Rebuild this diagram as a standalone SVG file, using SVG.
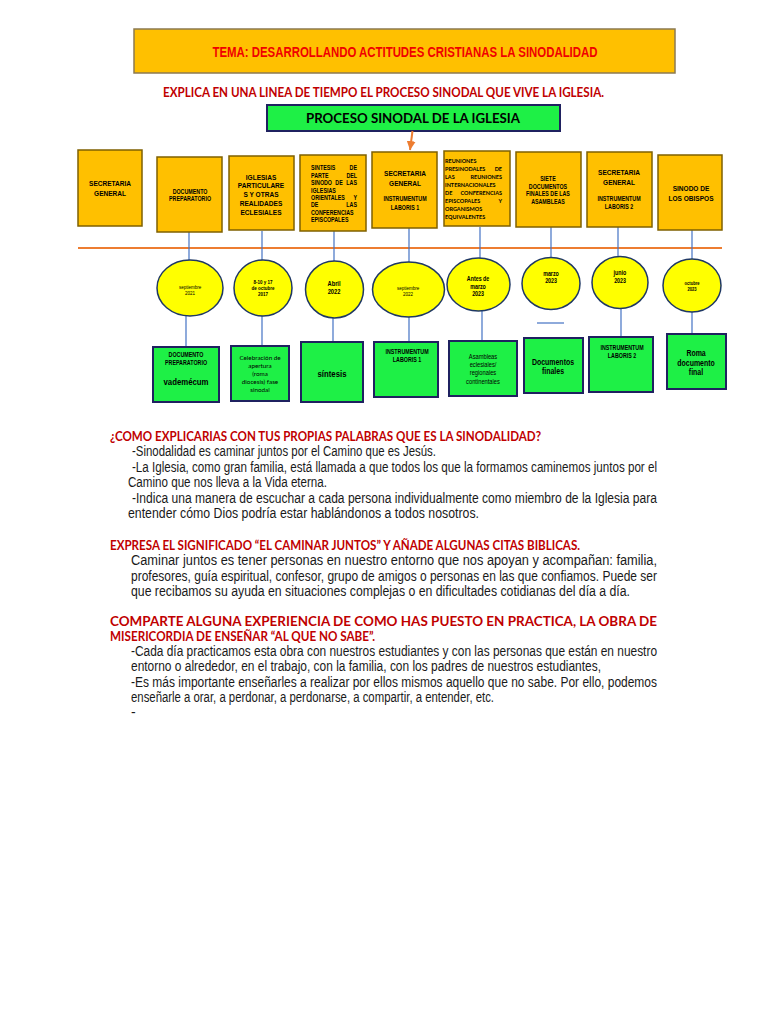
<svg xmlns="http://www.w3.org/2000/svg" width="768" height="1024" viewBox="0 0 768 1024">
<style>
.tb{fill:#FFC000;stroke:#7F6000;stroke-width:1.5}
.gb{fill:#1EF046;stroke:#1F2160;stroke-width:2}
.ci{fill:#FFFF00;stroke:#1F3864;stroke-width:1.5}
.cn{stroke:#4472C4;stroke-width:1.2;fill:none}
.n{font-family:"Liberation Sans",Arial,sans-serif;fill:#000;transform-box:fill-box;transform-origin:center;transform:scaleX(.82)}
.nl{font-family:"Liberation Sans",Arial,sans-serif;fill:#000;font-weight:bold;transform-box:fill-box;transform-origin:left center;transform:scaleX(.82)}
.nr{font-family:"Liberation Sans",Arial,sans-serif;fill:#000;font-weight:bold;text-anchor:end;transform-box:fill-box;transform-origin:right center;transform:scaleX(.82)}
.m{text-anchor:middle}
.b{font-weight:bold}
.c{font-family:Lato,"Liberation Sans",sans-serif;fill:#000}
.ce{font-family:Lato,"Liberation Sans",sans-serif;fill:#000;font-weight:bold;font-size:5.5px}
.hd{font-family:Lato,"Liberation Sans",sans-serif;font-weight:bold;fill:#C00000;font-size:13.3px}
.bd{font-family:"Liberation Sans",Arial,sans-serif;font-size:14px;fill:#1a1a1a}
</style>
<defs>
<marker id="ah" viewBox="0 0 10 10" refX="10" refY="5" markerWidth="9" markerHeight="9" markerUnits="userSpaceOnUse" orient="auto">
<path d="M0,0 L10,5 L0,10 z" fill="#ED7D31"/>
</marker>
</defs>

<g id="title">
<rect x="134" y="29" width="541" height="44" class="tb" style="stroke:#8C7A50"/>
<text x="405" y="57" font-family="Liberation Sans, Arial, sans-serif" font-weight="bold" font-size="14" fill="#F00000" text-anchor="middle" textLength="385" lengthAdjust="spacingAndGlyphs">TEMA: DESARROLLANDO ACTITUDES CRISTIANAS LA SINODALIDAD</text>
</g>
<text id="subtitle" x="163" y="97" class="hd" textLength="441" lengthAdjust="spacingAndGlyphs">EXPLICA EN UNA LINEA DE TIEMPO EL PROCESO SINODAL QUE VIVE LA IGLESIA.</text>

<g id="header">
<rect x="267" y="105" width="293" height="26" class="gb"/>
<text x="413" y="123" class="c" font-weight="bold" font-size="14" text-anchor="middle" textLength="214" lengthAdjust="spacingAndGlyphs">PROCESO SINODAL DE LA IGLESIA</text>
</g>

<g id="connectors">
<line x1="412.5" y1="131" x2="410" y2="150" stroke="#ED7D31" stroke-width="2" marker-end="url(#ah)"/>
<line x1="78" y1="248" x2="722" y2="248" stroke="#ED7D31" stroke-width="2"/>
<line class="cn" x1="189" y1="232" x2="189" y2="260"/>
<line class="cn" x1="262" y1="231" x2="262" y2="260"/>
<line class="cn" x1="334" y1="231" x2="334" y2="261"/>
<line class="cn" x1="409" y1="228" x2="409" y2="262"/>
<line class="cn" x1="480" y1="227" x2="480" y2="258"/>
<line class="cn" x1="551" y1="227" x2="551" y2="257.5"/>
<line class="cn" x1="618" y1="227" x2="618" y2="256.5"/>
<line class="cn" x1="692" y1="230" x2="692" y2="259"/>
<line class="cn" x1="186" y1="316" x2="186" y2="347"/>
<line class="cn" x1="262" y1="316" x2="262" y2="346"/>
<line class="cn" x1="333" y1="318" x2="333" y2="342"/>
<line class="cn" x1="409" y1="317" x2="409" y2="342"/>
<line class="cn" x1="482" y1="311" x2="482" y2="341"/>
<line class="cn" x1="621" y1="308.5" x2="621" y2="337"/>
<line class="cn" x1="692" y1="312" x2="692" y2="334"/>
<line class="cn" x1="537" y1="323" x2="564" y2="323"/>
</g>

<!-- top boxes -->
<g id="t1">
<rect x="78" y="150" width="64" height="76" class="tb"/>
<text class="n m b" x="110" y="186" font-size="8">SECRETARIA</text>
<text class="n m b" x="110" y="196" font-size="8">GENERAL</text>
</g>
<g id="t2">
<rect x="157" y="157" width="65" height="75" class="tb"/>
<text class="n m b" x="190" y="194" font-size="6.5">DOCUMENTO</text>
<text class="n m b" x="190" y="201.5" font-size="6.5">PREPARATORIO</text>
</g>
<g id="t3">
<rect x="229" y="156" width="65" height="74" class="tb"/>
<text class="n m b" x="261" y="180" font-size="8">IGLESIAS</text>
<text class="n m b" x="261" y="188.5" font-size="8">PARTICULARE</text>
<text class="n m b" x="261" y="197.5" font-size="8">S Y OTRAS</text>
<text class="n m b" x="261" y="206" font-size="8">REALIDADES</text>
<text class="n m b" x="261" y="215" font-size="8">ECLESIALES</text>
</g>
<g id="t4">
<rect x="300" y="155" width="66" height="76" class="tb"/>
<text class="nl" x="311" y="170.4" font-size="6.5">SINTESIS</text><text class="nr" x="357" y="170.4" font-size="6.5">DE</text>
<text class="nl" x="311" y="177.8" font-size="6.5">PARTE</text><text class="nr" x="357" y="177.8" font-size="6.5">DEL</text>
<text class="nl" x="311" y="185.2" font-size="6.5">SINODO</text><text class="n m b" x="339" y="185.2" font-size="6.5">DE</text><text class="nr" x="357" y="185.2" font-size="6.5">LAS</text>
<text class="nl" x="311" y="192.6" font-size="6.5">IGLESIAS</text>
<text class="nl" x="311" y="200" font-size="6.5">ORIENTALES</text><text class="nr" x="357" y="200" font-size="6.5">Y</text>
<text class="nl" x="311" y="207.4" font-size="6.5">DE</text><text class="nr" x="357" y="207.4" font-size="6.5">LAS</text>
<text class="nl" x="311" y="214.8" font-size="6.5">CONFERENCIAS</text>
<text class="nl" x="311" y="222.2" font-size="6.5">EPISCOPALES</text>
</g>
<g id="t5">
<rect x="372" y="152" width="65" height="76" class="tb"/>
<text class="n m b" x="405" y="176" font-size="8">SECRETARIA</text>
<text class="n m b" x="405" y="186" font-size="8">GENERAL</text>
<text class="n m b" x="405" y="201.5" font-size="6.5">INSTRUMENTUM</text>
<text class="n m b" x="405" y="210.5" font-size="6.5">LABORIS 1</text>
</g>
<g id="t6">
<rect x="444" y="151" width="66" height="75" class="tb"/>
<text class="ce" x="445" y="163">REUNIONES</text>
<text class="ce" x="445" y="171">PRESINODALES</text><text class="ce" x="502" y="171" text-anchor="end">DE</text>
<text class="ce" x="445" y="179">LAS</text><text class="ce" x="502" y="179" text-anchor="end">REUNIONES</text>
<text class="ce" x="445" y="187">INTERNACIONALES</text>
<text class="ce" x="445" y="195">DE</text><text class="ce" x="502" y="195" text-anchor="end">CONFERENCIAS</text>
<text class="ce" x="445" y="203">EPISCOPALES</text><text class="ce" x="502" y="203" text-anchor="end">Y</text>
<text class="ce" x="445" y="211">ORGANISMOS</text>
<text class="ce" x="445" y="219">EQUIVALENTES</text>
</g>
<g id="t7">
<rect x="516" y="152" width="65" height="75" class="tb"/>
<text class="n m b" x="548" y="181.5" font-size="6.5">SIETE</text>
<text class="n m b" x="548" y="189" font-size="6.5">DOCUMENTOS</text>
<text class="n m b" x="548" y="196.5" font-size="6.5">FINALES DE LAS</text>
<text class="n m b" x="548" y="204" font-size="6.5">ASAMBLEAS</text>
</g>
<g id="t8">
<rect x="587" y="152" width="65" height="75" class="tb"/>
<text class="n m b" x="619" y="175" font-size="8">SECRETARIA</text>
<text class="n m b" x="619" y="185" font-size="8">GENERAL</text>
<text class="n m b" x="619" y="201" font-size="6.5">INSTRUMENTUM</text>
<text class="n m b" x="619" y="209" font-size="6.5">LABORIS 2</text>
</g>
<g id="t9">
<rect x="658" y="155" width="64" height="75" class="tb"/>
<text class="n m b" x="691" y="191" font-size="8">SINODO DE</text>
<text class="n m b" x="691" y="201" font-size="8">LOS OBISPOS</text>
</g>

<!-- circles -->
<g id="c1">
<ellipse cx="190" cy="288" rx="33" ry="28" class="ci"/>
<text class="n m" x="190" y="289" font-size="5.5">septiembre</text>
<text class="n m" x="190" y="295" font-size="5.5">2021</text>
</g>
<g id="c2">
<ellipse cx="263" cy="288" rx="29" ry="28" class="ci"/>
<text class="n m b" x="263" y="284" font-size="5.5">8-10 y 17</text>
<text class="n m b" x="263" y="290" font-size="5.5">de octubre</text>
<text class="n m b" x="263" y="296" font-size="5.5">2017</text>
</g>
<g id="c3">
<ellipse cx="334.5" cy="289.5" rx="29" ry="28.5" class="ci"/>
<text class="n m b" x="334" y="286.5" font-size="7">Abril</text>
<text class="n m b" x="334" y="294.5" font-size="7">2022</text>
</g>
<g id="c4">
<ellipse cx="408.5" cy="289.5" rx="36" ry="27.5" class="ci"/>
<text class="n m" x="408" y="290" font-size="5.5">septiembre</text>
<text class="n m" x="408" y="296" font-size="5.5">2022</text>
</g>
<g id="c5">
<ellipse cx="478.5" cy="284.5" rx="31.5" ry="26.5" class="ci"/>
<text class="n m b" x="478" y="281" font-size="6.5">Antes de</text>
<text class="n m b" x="478" y="289" font-size="6.5">marzo</text>
<text class="n m b" x="478" y="296.5" font-size="6.5">2023</text>
</g>
<g id="c6">
<ellipse cx="551" cy="283.5" rx="29" ry="26" class="ci"/>
<text class="n m b" x="551" y="276" font-size="6.5">marzo</text>
<text class="n m b" x="551" y="283.5" font-size="6.5">2023</text>
</g>
<g id="c7">
<ellipse cx="620" cy="282.5" rx="28" ry="26" class="ci"/>
<text class="n m b" x="620" y="275" font-size="6.5">junio</text>
<text class="n m b" x="620" y="283" font-size="6.5">2023</text>
</g>
<g id="c8">
<ellipse cx="692" cy="285.5" rx="29" ry="26.5" class="ci"/>
<text class="n m b" x="692" y="285.5" font-size="5">octubre</text>
<text class="n m b" x="692" y="291" font-size="5">2023</text>
</g>

<!-- green boxes -->
<g id="g1">
<rect x="153" y="347" width="66" height="55" class="gb"/>
<text class="n m b" x="186" y="357" font-size="6.5">DOCUMENTO</text>
<text class="n m b" x="186" y="365" font-size="6.5">PREPARATORIO</text>
<text class="n m b" x="186" y="385" font-size="9.5">vademécum</text>
</g>
<g id="g2">
<rect x="231" y="346" width="58" height="55" class="gb"/>
<text class="c m" x="260" y="360" font-size="6.3">Celebración de</text>
<text class="c m" x="260" y="368" font-size="6.3">apertura</text>
<text class="c m" x="260" y="376" font-size="6.3">(roma</text>
<text class="c m" x="260" y="384" font-size="6.3">diocesis) fase</text>
<text class="c m" x="260" y="392" font-size="6.3">sinodal</text>
</g>
<g id="g3">
<rect x="301" y="342" width="62" height="60" class="gb"/>
<text class="n m b" x="332" y="377" font-size="9.5">síntesis</text>
</g>
<g id="g4">
<rect x="374" y="342" width="64" height="55" class="gb"/>
<text class="n m b" x="407" y="354" font-size="6.5">INSTRUMENTUM</text>
<text class="n m b" x="407" y="362" font-size="6.5">LABORIS 1</text>
</g>
<g id="g5">
<rect x="449" y="341" width="68" height="55" class="gb"/>
<text class="n m" x="483" y="359" font-size="7">Asambleas</text>
<text class="n m" x="483" y="367.5" font-size="7">eclesiales/</text>
<text class="n m" x="483" y="375.5" font-size="7">regionales</text>
<text class="n m" x="483" y="384" font-size="7">continentales</text>
</g>
<g id="g6">
<rect x="524" y="338" width="59" height="55" class="gb"/>
<text class="n m b" x="553" y="365" font-size="8.5">Documentos</text>
<text class="n m b" x="553" y="374" font-size="8.5">finales</text>
</g>
<g id="g7">
<rect x="589" y="337" width="64" height="55" class="gb"/>
<text class="n m b" x="622" y="350" font-size="6.5">INSTRUMENTUM</text>
<text class="n m b" x="622" y="358" font-size="6.5">LABORIS 2</text>
</g>
<g id="g8">
<rect x="667" y="334" width="59" height="55" class="gb"/>
<text class="n m b" x="696" y="356" font-size="8.5">Roma</text>
<text class="n m b" x="696" y="366" font-size="8.5">documento</text>
<text class="n m b" x="696" y="375" font-size="8.5">final</text>
</g>

<!-- text sections -->
<g id="q1">
<text class="hd" x="110" y="441" textLength="431" lengthAdjust="spacingAndGlyphs">¿COMO EXPLICARIAS CON TUS PROPIAS PALABRAS QUE ES LA SINODALIDAD?</text>
<text class="bd" x="132" y="456" textLength="304" lengthAdjust="spacingAndGlyphs">-Sinodalidad es caminar juntos por el Camino que es Jesús.</text>
<text class="bd" x="132" y="471.5" textLength="525" lengthAdjust="spacingAndGlyphs">-La Iglesia, como gran familia, está llamada a que todos los que la formamos caminemos juntos por el</text>
<text class="bd" x="128" y="487" textLength="199" lengthAdjust="spacingAndGlyphs">Camino que nos lleva a la Vida eterna.</text>
<text class="bd" x="132" y="502.5" textLength="525" lengthAdjust="spacingAndGlyphs">-Indica una manera de escuchar a cada persona individualmente como miembro de la Iglesia para</text>
<text class="bd" x="128" y="518" textLength="351" lengthAdjust="spacingAndGlyphs">entender cómo Dios podría estar hablándonos a todos nosotros.</text>
</g>
<g id="q2">
<text class="hd" x="110" y="550" textLength="470" lengthAdjust="spacingAndGlyphs">EXPRESA EL SIGNIFICADO “EL CAMINAR JUNTOS” Y AÑADE ALGUNAS CITAS BIBLICAS.</text>
<text class="bd" x="131" y="565" textLength="526" lengthAdjust="spacingAndGlyphs">Caminar juntos es tener personas en nuestro entorno que nos apoyan y acompañan: familia,</text>
<text class="bd" x="131" y="580.5" textLength="526" lengthAdjust="spacingAndGlyphs">profesores, guía espiritual, confesor, grupo de amigos o personas en las que confiamos. Puede ser</text>
<text class="bd" x="131" y="596" textLength="499" lengthAdjust="spacingAndGlyphs">que recibamos su ayuda en situaciones complejas o en dificultades cotidianas del día a día.</text>
</g>
<g id="q3">
<text class="hd" x="110" y="626" textLength="547" lengthAdjust="spacingAndGlyphs">COMPARTE ALGUNA EXPERIENCIA DE COMO HAS PUESTO EN PRACTICA, LA OBRA DE</text>
<text class="hd" x="110" y="641" textLength="265" lengthAdjust="spacingAndGlyphs">MISERICORDIA DE ENSEÑAR “AL QUE NO SABE”.</text>
<text class="bd" x="131" y="655.5" textLength="526" lengthAdjust="spacingAndGlyphs">-Cada día practicamos esta obra con nuestros estudiantes y con las personas que están en nuestro</text>
<text class="bd" x="131" y="671" textLength="470" lengthAdjust="spacingAndGlyphs">entorno o alrededor, en el trabajo, con la familia, con los padres de nuestros estudiantes,</text>
<text class="bd" x="131" y="686.5" textLength="526" lengthAdjust="spacingAndGlyphs">-Es más importante enseñarles a realizar por ellos mismos aquello que no sabe. Por ello, podemos</text>
<text class="bd" x="131" y="702" textLength="363" lengthAdjust="spacingAndGlyphs">enseñarle a orar, a perdonar, a perdonarse, a compartir, a entender, etc.</text>
<text class="bd" x="131" y="717">-</text>
</g>
</svg>
